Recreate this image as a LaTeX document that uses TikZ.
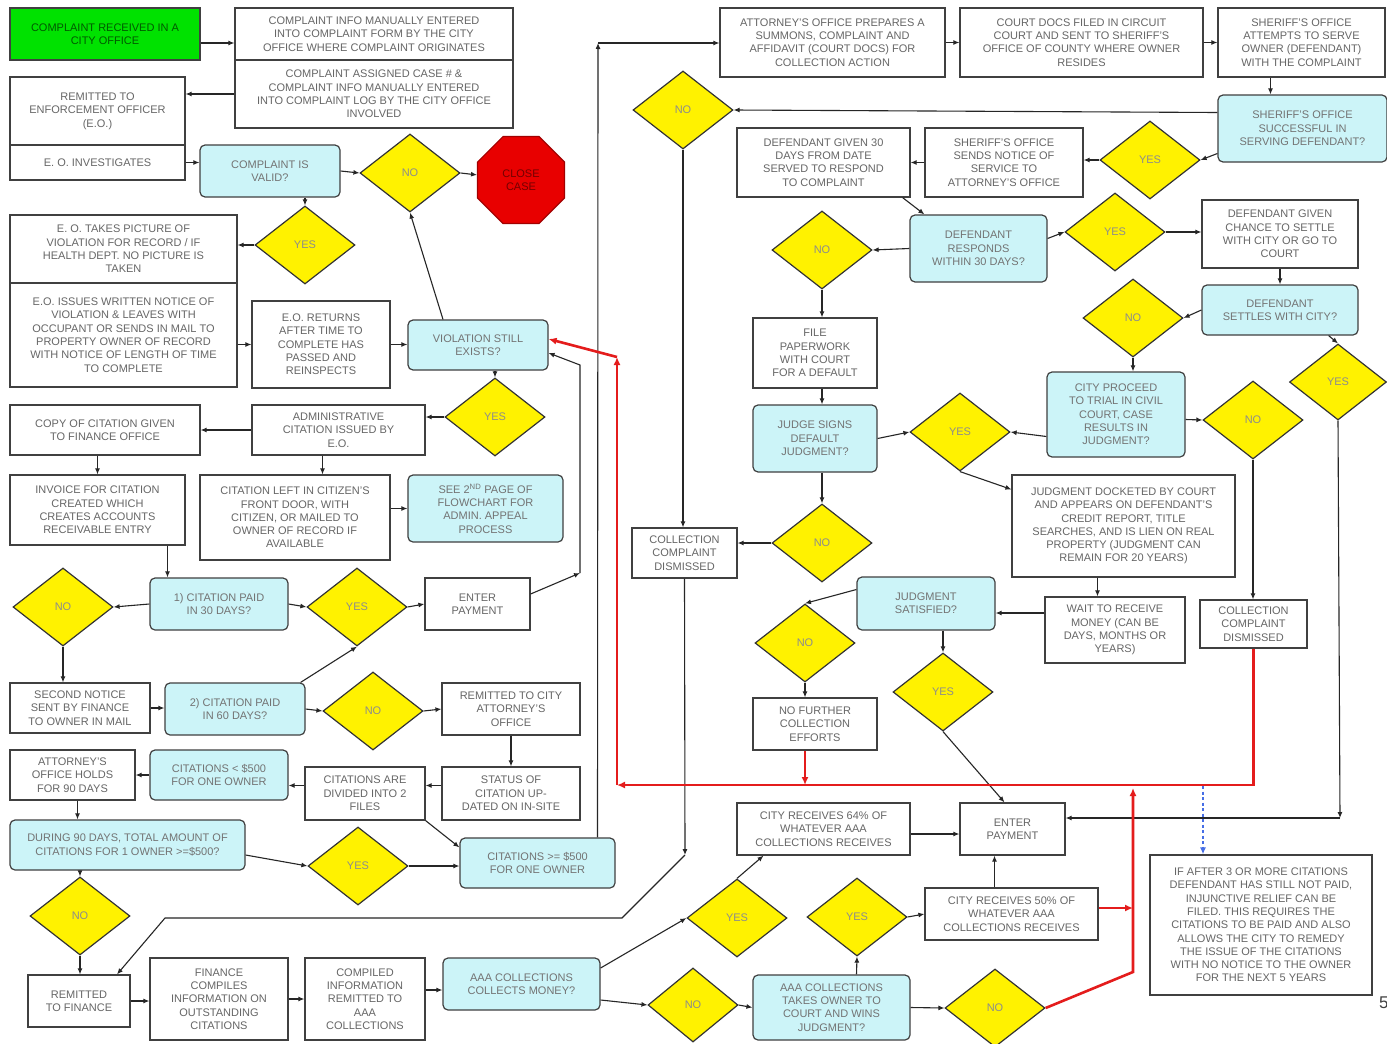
\documentclass[tikz,border=0pt]{standalone}
\usepackage{fontspec}
\setmainfont{Liberation Sans}
\usetikzlibrary{shapes.geometric,arrows.meta}
\definecolor{qblue}{RGB}{204,244,248}
\definecolor{okgreen}{RGB}{0,226,0}
\definecolor{stopred}{RGB}{232,0,0}
\definecolor{flowred}{RGB}{228,28,28}
\definecolor{noteblue}{RGB}{70,110,230}
\newcommand{\boxfont}{\fontsize{11}{13.3}\selectfont}

\begin{document}
\begin{tikzpicture}
    [x=1pt, y=-1pt,
     box/.style={rectangle, draw=black!75, line width=1.2pt, fill=white, text=black!60, font=\boxfont, align=center, inner sep=2pt},
     query/.style={box, rounded corners=5pt, fill=qblue, text=black!55},
     choice/.style={diamond, draw=black!80, line width=1.2pt, fill=yellow, text=black!45, font=\boxfont, minimum width=100pt, minimum height=78pt, inner sep=0pt},
     sz/.style 2 args={minimum width=#1pt, minimum height=#2pt},
     flow/.style={draw=black!85, line width=1.1pt, -{Latex[length=6pt,width=5pt]}},
     redflow/.style={draw=flowred, line width=2.6pt, -{Latex[length=8pt,width=7pt]}}]
    \fill[white] (0,0) rectangle (1387,1044);
    \useasboundingbox (0,0) rectangle (1387,1044);

    \node[box, sz={190}{52}, fill=okgreen, text=green!35!black] (recv) at (105,34) {COMPLAINT RECEIVED IN A\\CITY OFFICE};
    \node[box, sz={278}{52}] (form) at (374,34) {COMPLAINT INFO MANUALLY ENTERED\\INTO COMPLAINT FORM BY THE CITY\\OFFICE WHERE COMPLAINT ORIGINATES};
    \node[box, sz={278}{68}] (log) at (374,94) {COMPLAINT ASSIGNED CASE \# \&\\COMPLAINT INFO MANUALLY ENTERED\\INTO COMPLAINT LOG BY THE CITY OFFICE\\INVOLVED};
    \node[box, sz={175}{68}] (remeo) at (97.5,111) {REMITTED TO\\ENFORCEMENT OFFICER\\(E.O.)};
    \node[box, sz={175}{35}] (invest) at (97.5,162.5) {E. O. INVESTIGATES};
    \node[query, sz={140}{52}] (valid) at (270,171) {COMPLAINT IS\\VALID?};
    \node[choice] (validno) at (410,173) {NO};
    \node[regular polygon, regular polygon sides=8, minimum size=94pt, fill=stopred, draw=stopred!70!black, line width=1.2pt, text=red!45!black, font=\boxfont, align=center, inner sep=0pt] (close) at (521,180) {CLOSE\\CASE};
    \node[choice] (validyes) at (305,245) {YES};
    \node[box, sz={227}{68}] (photo) at (123.5,249) {E. O. TAKES PICTURE OF\\VIOLATION FOR RECORD / IF\\HEALTH DEPT. NO PICTURE IS\\TAKEN};
    \node[box, sz={227}{104}] (notice) at (123.5,335) {E.O. ISSUES WRITTEN NOTICE OF\\VIOLATION \& LEAVES WITH\\OCCUPANT OR SENDS IN MAIL TO\\PROPERTY OWNER OF RECORD\\WITH NOTICE OF LENGTH OF TIME\\TO COMPLETE};
    \node[box, sz={138}{87}] (reinsp) at (321,344.5) {E.O. RETURNS\\AFTER TIME TO\\COMPLETE HAS\\PASSED AND\\REINSPECTS};
    \node[query, sz={140}{50}] (still) at (478,345) {VIOLATION STILL\\EXISTS?};
    \node[choice] (stillyes) at (495,417) {YES};
    \node[box, sz={173}{50}] (admin) at (338.5,430) {ADMINISTRATIVE\\CITATION ISSUED BY\\E.O.};
    \node[box, sz={190}{50}] (copy) at (105,430) {COPY OF CITATION GIVEN\\TO FINANCE OFFICE};
    \node[box, sz={175}{70}] (invoice) at (97.5,510) {INVOICE FOR CITATION\\CREATED WHICH\\CREATES ACCOUNTS\\RECEIVABLE ENTRY};
    \node[box, sz={190}{85}] (left) at (295,517.5) {CITATION LEFT IN CITIZEN'S\\FRONT DOOR, WITH\\CITIZEN, OR MAILED TO\\OWNER OF RECORD IF\\AVAILABLE};
    \node[query, sz={155}{67}] (appeal) at (485.5,508.5) {SEE 2\textsuperscript{ND} PAGE OF\\FLOWCHART FOR\\ADMIN. APPEAL\\PROCESS};
    \node[query, sz={138}{52}] (paid30) at (219,604) {1) CITATION PAID\\IN 30 DAYS?};
    \node[choice] (paid30no) at (63,607) {NO};
    \node[choice] (paid30yes) at (357,607) {YES};
    \node[box, sz={105}{52}] (enter1) at (477.5,604) {ENTER\\PAYMENT};
    \node[box, sz={140}{50}] (second) at (80,708) {SECOND NOTICE\\SENT BY FINANCE\\TO OWNER IN MAIL};
    \node[query, sz={140}{52}] (paid60) at (235,709) {2) CITATION PAID\\IN 60 DAYS?};
    \node[choice] (paid60no) at (373,711) {NO};
    \node[box, sz={138}{52}] (cityatty) at (511,709) {REMITTED TO CITY\\ATTORNEY'S\\OFFICE};
    \node[box, sz={138}{53}] (status) at (511,793.5) {STATUS OF\\CITATION UP-\\DATED ON IN-SITE};
    \node[box, sz={120}{53}] (split) at (365,793.5) {CITATIONS ARE\\DIVIDED INTO 2\\FILES};
    \node[query, sz={138}{50}] (under) at (219,775) {CITATIONS < \$500\\FOR ONE OWNER};
    \node[box, sz={125}{50}] (hold) at (72.5,775) {ATTORNEY'S\\OFFICE HOLDS\\FOR 90 DAYS};
    \node[query, sz={235}{50}] (total) at (127.5,845) {DURING 90 DAYS, TOTAL AMOUNT OF\\CITATIONS FOR 1 OWNER >=\$500?};
    \node[choice] (totalyes) at (358,866) {YES};
    \node[query, sz={155}{50}] (over) at (537.5,863) {CITATIONS >= \$500\\FOR ONE OWNER};
    \node[choice] (totalno) at (80,916) {NO};
    \node[box, sz={102}{52}] (remfin) at (79,1001) {REMITTED\\TO FINANCE};
    \node[box, sz={138}{82}] (compile) at (219,999) {FINANCE\\COMPILES\\INFORMATION ON\\OUTSTANDING\\CITATIONS};
    \node[box, sz={120}{82}] (sent) at (365,999) {COMPILED\\INFORMATION\\REMITTED TO\\AAA\\COLLECTIONS};
    \node[query, sz={157}{52}] (aaa) at (521.5,984) {AAA COLLECTIONS\\COLLECTS MONEY?};
    \node[choice] (aaayes) at (737,918) {YES};
    \node[choice, sz={90}{74}] (aaano) at (693,1005) {NO};
    \node[box, sz={173}{52}] (get64) at (823.5,829) {CITY RECEIVES 64\% OF\\WHATEVER AAA\\COLLECTIONS RECEIVES};
    \node[box, sz={105}{52}] (enter2) at (1012.5,829) {ENTER\\PAYMENT};
    \node[query, sz={157}{65}] (court) at (831.5,1007.5) {AAA COLLECTIONS\\TAKES OWNER TO\\COURT AND WINS\\JUDGMENT?};
    \node[choice] (courtyes) at (857,917) {YES};
    \node[box, sz={173}{52}] (get50) at (1011.5,914) {CITY RECEIVES 50\% OF\\WHATEVER AAA\\COLLECTIONS RECEIVES};
    \node[choice] (courtno) at (995,1008) {NO};
    \node[box, sz={222}{140}] (inj) at (1261,925) {IF AFTER 3 OR MORE CITATIONS\\DEFENDANT HAS STILL NOT PAID,\\INJUNCTIVE RELIEF CAN BE\\FILED. THIS REQUIRES THE\\CITATIONS TO BE PAID AND ALSO\\ALLOWS THE CITY TO REMEDY\\THE ISSUE OF THE CITATIONS\\WITH NO NOTICE TO THE OWNER\\FOR THE NEXT 5 YEARS};
    \node[anchor=west, font=\fontsize{17}{17}\selectfont, text=black!75, inner sep=0pt] (pagenum) at (1379,1003) {5};

    \node[box, sz={225}{69}] (prep) at (832.5,42.5) {ATTORNEY'S OFFICE PREPARES A\\SUMMONS, COMPLAINT AND\\AFFIDAVIT (COURT DOCS) FOR\\COLLECTION ACTION};
    \node[box, sz={243}{69}] (filed) at (1081.5,42.5) {COURT DOCS FILED IN CIRCUIT\\COURT AND SENT TO SHERIFF'S\\OFFICE OF COUNTY WHERE OWNER\\RESIDES};
    \node[box, sz={167}{69}] (serve) at (1301.5,42.5) {SHERIFF'S OFFICE\\ATTEMPTS TO SERVE\\OWNER (DEFENDANT)\\WITH THE COMPLAINT};
    \node[query, sz={169}{67}] (served) at (1302.5,128.5) {SHERIFF'S OFFICE\\SUCCESSFUL IN\\SERVING DEFENDANT?};
    \node[choice] (servedno) at (683,110) {NO};
    \node[choice] (servedyes) at (1150,160) {YES};
    \node[box, sz={158}{69}] (notify) at (1004,162.5) {SHERIFF'S OFFICE\\SENDS NOTICE OF\\SERVICE TO\\ATTORNEY'S OFFICE};
    \node[box, sz={173}{69}] (thirty) at (823.5,162.5) {DEFENDANT GIVEN 30\\DAYS FROM DATE\\SERVED TO RESPOND\\TO COMPLAINT};
    \node[query, sz={137}{67}] (respond) at (978.5,248.5) {DEFENDANT\\RESPONDS\\WITHIN 30 DAYS?};
    \node[choice] (respno) at (822,250) {NO};
    \node[choice] (respyes) at (1115,232) {YES};
    \node[box, sz={156}{68}] (chance) at (1280,234) {DEFENDANT GIVEN\\CHANCE TO SETTLE\\WITH CITY OR GO TO\\COURT};
    \node[query, sz={156}{50}] (settle) at (1280,310) {DEFENDANT\\SETTLES WITH CITY?};
    \node[choice] (settleno) at (1133,318) {NO};
    \node[choice, sz={97}{76}] (settleyes) at (1338,382) {YES};
    \node[query, sz={138}{85}] (trial) at (1116,414.5) {CITY PROCEED\\TO TRIAL IN CIVIL\\COURT, CASE\\RESULTS IN\\JUDGMENT?};
    \node[choice] (trialno) at (1253,420) {NO};
    \node[box, sz={107}{48}] (dism2) at (1253.5,624) {COLLECTION\\COMPLAINT\\DISMISSED};
    \node[choice] (judgeyes) at (960,432) {YES};
    \node[box, sz={124}{70}] (paper) at (815,353) {FILE\\PAPERWORK\\WITH COURT\\FOR A DEFAULT};
    \node[query, sz={124}{67}] (judge) at (815,438.5) {JUDGE SIGNS\\DEFAULT\\JUDGMENT?};
    \node[choice] (judgeno) at (822,543) {NO};
    \node[box, sz={105}{50}] (dism1) at (684.5,553) {COLLECTION\\COMPLAINT\\DISMISSED};
    \node[box, sz={223}{102}] (docket) at (1123.5,526) {JUDGMENT DOCKETED BY COURT\\AND APPEARS ON DEFENDANT'S\\CREDIT REPORT, TITLE\\SEARCHES, AND IS LIEN ON REAL\\PROPERTY (JUDGMENT CAN\\REMAIN FOR 20 YEARS)};
    \node[box, sz={140}{66}] (wait) at (1115,630) {WAIT TO RECEIVE\\MONEY (CAN BE\\DAYS, MONTHS OR\\YEARS)};
    \node[query, sz={138}{53}] (satisf) at (926,603.5) {JUDGMENT\\SATISFIED?};
    \node[choice] (satno) at (805,643) {NO};
    \node[choice] (satyes) at (943,692) {YES};
    \node[box, sz={124}{52}] (nofurther) at (815,724) {NO FURTHER\\COLLECTION\\EFFORTS};

    \coordinate (payA) at (580,573);
    \coordinate (payB) at (580,365);
    \coordinate (topL) at (598,43);
    \coordinate (redL) at (617,785);
    \coordinate (redU) at (617,357);
    \coordinate (redC) at (1133,972);
    \coordinate (redT) at (1133,788);
    \coordinate (blueT) at (1203,786);
    \coordinate (payR) at (1340,818);
    \coordinate (dropA) at (685,855);
    \coordinate (dropB) at (622,918);
    \coordinate (dropC) at (165,918);

    \draw[flow] ([yshift=-9pt]recv.east) -- ([yshift=-9pt]recv.east -| form.west);
    \draw[flow] (log.west) -- (log.west -| remeo.east);
    \draw[flow] (invest.east) -- (invest.east -| valid.west);
    \draw[flow] (valid.east) -- (validno.west);
    \draw[flow] (validno.east) -- (close);
    \draw[flow] (valid.south -| validyes.north) -- (validyes.north);
    \draw[flow] (validyes.west) -- (validyes.west -| photo.east);
    \draw[flow] (reinsp.west -| notice.east) -- (reinsp.west);
    \draw[flow] (reinsp.east) -- (reinsp.east -| still.west);
    \draw[flow] ([xshift=-35pt]still.north) -- (validno.south);
    \draw[flow] (still.south -| stillyes.north) -- (stillyes.north);
    \draw[flow] (stillyes.west) -- (stillyes.west -| admin.east);
    \draw[flow] (admin.west) -- (admin.west -| copy.east);
    \draw[flow] (copy.south -| invoice.north) -- (invoice.north);
    \draw[flow] ([xshift=-16pt]admin.south) -- ([xshift=-16pt]admin.south |- left.north);
    \draw[flow] (left.east |- appeal.west) -- (appeal.west);
    \draw[flow] ([xshift=70pt]invoice.south) -- ([xshift=70pt]invoice.south |- paid30.north);
    \draw[flow] (paid30.west) -- (paid30no.east);
    \draw[flow] (paid30.east) -- (paid30yes.west);
    \draw[flow] (paid30yes.east) -- (enter1.west);
    \draw[flow] ([yshift=10pt]enter1.east) -- (payA);
    \draw[flow] (payA) -- (payB) -- ([yshift=-8pt]still.east);
    \draw[flow] (paid30no.south) -- (paid30no.south |- second.north);
    \draw[flow] (second.east) -- (second.east -| paid60.west);
    \draw[flow] ([xshift=-5pt]paid60.north east) -- (paid30yes.south);
    \draw[flow] (paid60.east) -- (paid60no.west);
    \draw[flow] (paid60no.east) -- (cityatty.west);
    \draw[flow] (cityatty.south) -- (status.north);
    \draw[flow] ([yshift=8pt]status.west) -- ([yshift=8pt]status.west -| split.east);
    \draw[flow] ([yshift=8pt]split.west) -- ([yshift=8pt]split.west -| under.east);
    \draw[flow] (under.west) -- (under.west -| hold.east);
    \draw[flow] ([xshift=5pt]hold.south) -- ([xshift=5pt]hold.south |- total.north);
    \draw[flow] ([yshift=-10pt]total.east) -- (totalyes.west);
    \draw[flow] (totalyes.east) -- (totalyes.east -| over.west);
    \draw[flow] (split.south east) -- ([yshift=-10pt]over.north west);
    \draw[flow] ([xshift=60pt]over.north) -- (topL);
    \draw[flow] (topL) -- (topL -| prep.west);
    \draw[flow] (total.south -| totalno.north) -- (totalno.north);
    \draw[flow] (totalno.south) -- (totalno.south |- remfin.north);
    \draw[flow] (remfin.east) -- (remfin.east -| compile.west);
    \draw[flow] (compile.east) -- (compile.east -| sent.west);
    \draw[flow] ([yshift=9pt]sent.east) -- ([yshift=9pt]sent.east -| aaa.west);
    \draw[flow] ([yshift=16pt]aaa.east) -- (aaayes.west);
    \draw[flow] ([yshift=-16pt]aaa.east) -- (aaano.west);
    \draw[flow] (aaayes.north) -- ([xshift=-60pt]get64.south);
    \draw[flow] ([yshift=-5pt]get64.east) -- ([yshift=-5pt]get64.east -| enter2.west);
    \draw[flow] (aaano.east) -- (court.west);
    \draw[flow] ([xshift=25pt]court.north) -- (courtyes.south);
    \draw[flow] (courtyes.east) -- (get50.west);
    \draw[flow] ([xshift=-17pt]get50.north) -- ([xshift=-17pt]get50.north |- enter2.south);
    \draw[flow] (court.east) -- (courtno.west);
    \draw[flow] (dism1.south) -- (dropA);
    \draw[flow] (dropA) -- (dropB) -- (dropC) -- ([xshift=38pt]remfin.north);

    \draw[flow] (prep.east) -- (filed.west);
    \draw[flow] (filed.east) -- (serve.west);
    \draw[flow] ([xshift=-31pt]serve.south) -- ([xshift=-31pt]serve.south |- served.north);
    \draw[flow] ([yshift=16pt]served.west) -- (servedno.east);
    \draw[flow] (servedno.south) -- (servedno.south |- dism1.north);
    \draw[flow] ([yshift=-25pt]served.west) -- (servedyes.east);
    \draw[flow] (servedyes.west) -- (servedyes.west -| notify.east);
    \draw[flow] (notify.west) -- (thirty.east);
    \draw[flow] ([xshift=-8pt]thirty.south east) -- ([xshift=15pt]respond.north west);
    \draw[flow] (respond.west) -- (respno.east);
    \draw[flow] ([yshift=10pt]respond.east) -- (respyes.west);
    \draw[flow] (respyes.east) -- (respyes.east -| chance.west);
    \draw[flow] (chance.south) -- (settle.north);
    \draw[flow] (settle.west) -- (settleno.east);
    \draw[flow] ([xshift=-30pt]settle.south east) -- (settleyes.north);
    \draw[flow] (settleyes.south) -- (payR);
    \draw[flow] (payR) -- (payR -| enter2.east);
    \draw[flow] (settleno.south) -- (settleno.south |- trial.north);
    \draw[flow] ([yshift=-5pt]trial.east) -- (trialno.west);
    \draw[flow] (trialno.south) -- (trialno.south |- dism2.north);
    \draw[flow] ([yshift=-22pt]trial.west) -- (judgeyes.east);
    \draw[flow] (respno.south) -- (respno.south |- paper.north);
    \draw[flow] ([xshift=7pt]paper.south) -- ([xshift=7pt]judge.north);
    \draw[flow] (judge.east) -- (judgeyes.west);
    \draw[flow] ([xshift=7pt]judge.south) -- (judgeno.north);
    \draw[flow] (judgeno.west) -- (judgeno.west -| dism1.east);
    \draw[flow] (judgeyes.south) -- ([yshift=-15pt]docket.north west);
    \draw[flow] ([xshift=-26pt]docket.south) -- ([xshift=-26pt]docket.south |- wait.north);
    \draw[flow] ([yshift=17pt]wait.west) -- ([yshift=17pt]wait.west -| satisf.east);
    \draw[flow] ([yshift=14pt]satisf.west) -- (satno.north);
    \draw[flow] (satisf.south -| satyes.north) -- (satyes.north);
    \draw[flow] (satno.south) -- (satno.south |- nofurther.north);
    \draw[flow] (satyes.south) -- ([xshift=-8pt]enter2.north);

    \draw[redflow] (dism2.south) -- (dism2.south |- redL) -- (redL);
    \draw[redflow] (redL) -- (redU);
    \draw[redflow] (redU) -- ([yshift=6pt]still.east);
    \draw[redflow] ([xshift=-10pt]nofurther.south) -- ([xshift=-10pt]nofurther.south |- redL);
    \draw[redflow] (courtno.east) -- (redC) -- (redT);
    \draw[redflow] ([yshift=6pt]get50.east) -- ([yshift=6pt]get50.east -| redC);
    \draw[noteblue, line width=2pt, dash pattern=on 3pt off 2.5pt, -{Latex[length=7pt,width=6pt]}] (blueT) -- (blueT |- inj.north);
  \end{tikzpicture}
\end{document}
